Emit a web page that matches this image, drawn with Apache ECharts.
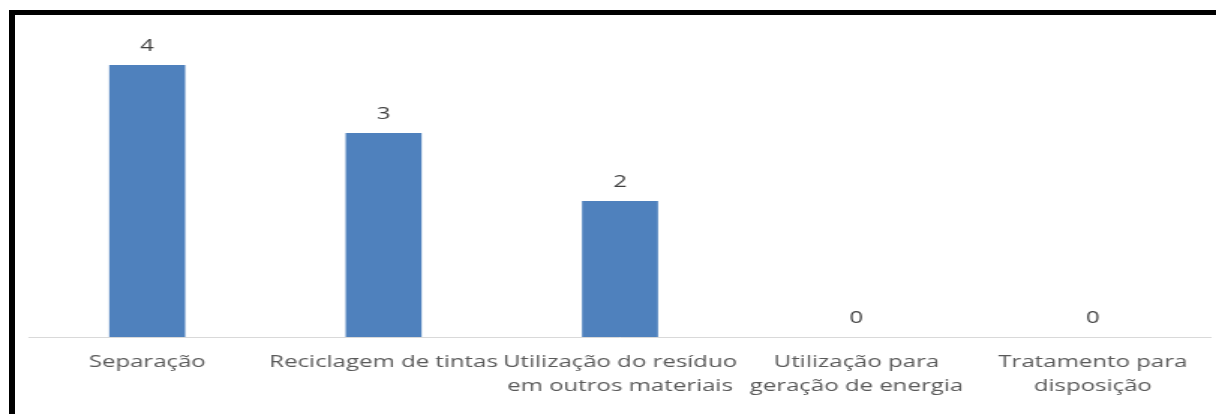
<!DOCTYPE html>
<html>
<head>
<meta charset="utf-8">
<script src="https://cdn.jsdelivr.net/npm/echarts@6/dist/echarts.min.js"></script>
<style>
  html, body { margin: 0; padding: 0; background: #fff; overflow: hidden; }
  #frame {
    position: absolute; left: 9px; top: 10px; width: 1300px; height: 500px;
    border-left: 6px solid #000; border-top: 5px solid #000; box-sizing: border-box;
    pointer-events: none; z-index: 2;
  }
  /* chart is laid out narrower and stretched horizontally to the full width */
  #chart {
    position: absolute; left: 0; top: 0; width: 811px; height: 414px;
    transform: scaleX(1.4994); transform-origin: 0 0;
  }
</style>
</head>
<body>
<div id="chart"></div>
<div id="frame"></div>
<script>
const categories = [
  'Separação',
  'Reciclagem de tintas',
  'Utilização do resíduo\nem outros materiais',
  'Utilização para\ngeração de energia',
  'Tratamento para\ndisposição'
];
const values = [4, 3, 2, 0, 0];

const SX = 1.4994;
const FONT = '"Open Sans", "Liberation Sans", sans-serif';

const chart = echarts.init(document.getElementById('chart'), null, { renderer: 'canvas' });
chart.setOption({
  animation: false,
  backgroundColor: 'transparent',
  grid: {
    left: 29 / SX,
    width: 1182 / SX,
    top: 65,
    height: 272,
    containLabel: false
  },
  xAxis: {
    type: 'category',
    data: categories,
    axisLine: { show: true, lineStyle: { color: '#D9D9D9', width: 1 } },
    axisTick: { show: false },
    axisLabel: {
      interval: 0,
      margin: 13,
      color: '#595959',
      fontFamily: FONT,
      fontSize: 16,
      lineHeight: 24
    }
  },
  yAxis: {
    type: 'value',
    min: 0,
    max: 4,
    show: false,
    splitLine: { show: false }
  },
  series: [{
    type: 'bar',
    data: values,
    barWidth: 76 / SX,
    itemStyle: { color: '#4F81BD' },
    label: {
      show: true,
      position: 'top',
      distance: 11,
      color: '#404040',
      fontFamily: FONT,
      fontSize: 16
    }
  }]
});
</script>
</body>
</html>
